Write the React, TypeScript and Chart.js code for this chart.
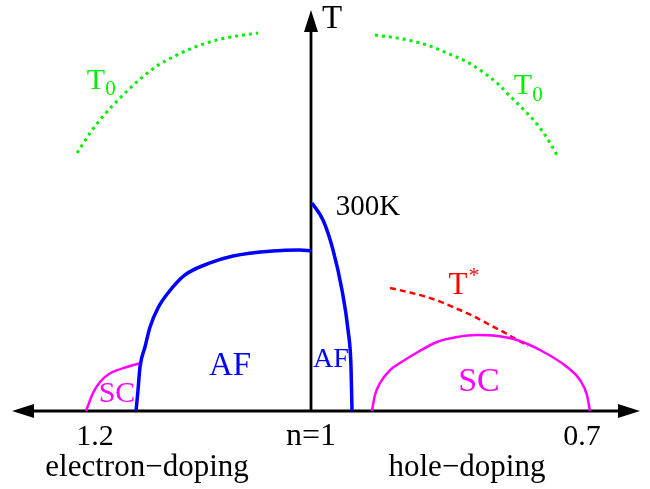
import React, { useEffect, useRef } from "react";
import { Chart, registerables } from "chart.js";

Chart.register(...registerables);

// Schematic axes: x = doping-like coordinate (n=1 at 0), y = temperature T (K)
const X_MIN = -0.3443;
const X_MAX = 0.3753;
const T_MIN = -112.5;
const T_MAX = 592.8;

const AXIS_X_LEFT = -0.331;
const AXIS_X_RIGHT = 0.3642;
const AXIS_T_TOP = 578.4;

// Electron-doped AF dome
const afLeftX = [-0.1937, -0.1915, -0.1893, -0.1838, -0.1782, -0.1694, -0.1583, -0.1395, -0.1118, -0.0863, -0.0421, -0.0122, 0];
const afLeftT = [0, 30.3, 63.5, 92.3, 121.2, 148.6, 170.2, 196.2, 213.5, 223.6, 230.8, 232.2, 230.8];

// Electron-doped SC dome
const scLeftX = [-0.2491, -0.2413, -0.2336, -0.2236, -0.2037, -0.1882];
const scLeftT = [0, 26.0, 41.8, 53.4, 63.5, 69.2];

// Hole-doped AF line
const afRightX = [0.0011, 0.0133, 0.0244, 0.0343, 0.041, 0.0443, 0.0454];
const afRightT = [300, 275.5, 232.2, 174.5, 116.8, 63.5, 0];

// Hole-doped SC dome
const scRightX = [0.0675, 0.0708, 0.0764, 0.0875, 0.0985, 0.1184, 0.1395, 0.1616, 0.1838, 0.2059, 0.228, 0.2535, 0.2834, 0.2978, 0.3055, 0.3088];
const scRightT = [0, 23.1, 40.4, 59.1, 69.2, 85.1, 99.5, 106.7, 109.6, 108.2, 102.4, 88.0, 63.5, 44.7, 23.1, 0];

// Pseudogap T*
const tStarX = [0.0875, 0.1118, 0.1351, 0.1572, 0.1793, 0.1982, 0.217, 0.2402];
const tStarT = [177.4, 170.2, 161.5, 150.0, 137.0, 124.0, 111.1, 93.7];

// T0 curves
const t0LeftX = [-0.259, -0.2446, -0.2291, -0.2114, -0.1893, -0.1705, -0.1506, -0.1284, -0.1041, -0.0819, -0.0587];
const t0LeftT = [372.1, 401.0, 426.9, 451.4, 478.8, 497.6, 512.0, 525.0, 535.1, 540.9, 545.2];
const t0RightX = [0.0708, 0.1018, 0.1284, 0.1506, 0.1727, 0.1904, 0.2059, 0.2203, 0.2347, 0.2502, 0.2613, 0.2723];
const t0RightT = [542.3, 536.5, 527.9, 516.3, 503.4, 488.9, 473.1, 454.3, 435.6, 413.9, 393.7, 369.2];

// Tick labels on the doping axis
const tickTexts = ["1.2", "n=1", "0.7"];
const tickX = [-0.2391, 0, 0.3];
const tickT = -37.5;

type Label = { text: string; sub?: string; sup?: string; x: number; t: number; color: string; size: number };
const labels: Label[] = [
  { text: "T", x: 0.0232, t: 565.4, color: "#000000", size: 33 },
  { text: "electron\u2212doping", x: -0.1815, t: -82.2, color: "#000000", size: 31 },
  { text: "hole\u2212doping", x: 0.1727, t: -82.2, color: "#000000", size: 31 },
  { text: "300K", x: 0.0631, t: 294.2, color: "#000000", size: 29 },
  { text: "AF", x: -0.0897, t: 64.9, color: "#0000ff", size: 33 },
  { text: "SC", x: -0.2148, t: 24.5, color: "#ff00ff", size: 30 },
  { text: "AF", x: 0.0221, t: 73.6, color: "#0000ff", size: 28 },
  { text: "SC", x: 0.186, t: 41.8, color: "#ff00ff", size: 34 },
  { text: "T", sup: "*", x: 0.1627, t: 180.3, color: "#ff0000", size: 31 },
  { text: "T", sub: "0", x: -0.238, t: 476.0, color: "#00f000", size: 30 },
  { text: "T", sub: "0", x: 0.2347, t: 468.7, color: "#00f000", size: 30 },
];

const FONT = '"Liberation Serif", "Times New Roman", serif';

const pts = (xs: number[], ts: number[]) => xs.map((x, i) => ({ x, y: ts[i] }));

const overlayPlugin = {
  id: "overlay",
  beforeDatasetsDraw(chart: any) {
    const { ctx, scales } = chart;
    const xs = scales.x;
    const ys = scales.y;
    const x0 = xs.getPixelForValue(0);
    const y0 = ys.getPixelForValue(0);
    const xl = xs.getPixelForValue(AXIS_X_LEFT);
    const xr = xs.getPixelForValue(AXIS_X_RIGHT);
    const yt = ys.getPixelForValue(AXIS_T_TOP);
    const L = 22;
    const W = 7;
    ctx.save();
    ctx.strokeStyle = "#000";
    ctx.fillStyle = "#000";
    ctx.lineWidth = 2.8;
    ctx.beginPath();
    ctx.moveTo(xl + L - 2, y0);
    ctx.lineTo(xr - L + 2, y0);
    ctx.moveTo(x0, y0);
    ctx.lineTo(x0, yt + L - 2);
    ctx.stroke();
    ctx.beginPath();
    ctx.moveTo(xl, y0);
    ctx.lineTo(xl + L, y0 - W);
    ctx.lineTo(xl + L, y0 + W);
    ctx.closePath();
    ctx.moveTo(xr, y0);
    ctx.lineTo(xr - L, y0 - W);
    ctx.lineTo(xr - L, y0 + W);
    ctx.closePath();
    ctx.moveTo(x0, yt);
    ctx.lineTo(x0 - W, yt + L);
    ctx.lineTo(x0 + W, yt + L);
    ctx.closePath();
    ctx.fill();
    ctx.restore();
  },
  afterDatasetsDraw(chart: any) {
    const { ctx, scales } = chart;
    const xs = scales.x;
    const ys = scales.y;
    ctx.save();
    ctx.textBaseline = "middle";
    tickTexts.forEach((t, i) => {
      ctx.font = `${i === 1 ? 32 : 30}px ${FONT}`;
      ctx.fillStyle = "#000";
      ctx.textAlign = "center";
      ctx.fillText(t, xs.getPixelForValue(tickX[i]), ys.getPixelForValue(tickT));
    });
    labels.forEach((lb) => {
      const px = xs.getPixelForValue(lb.x);
      const py = ys.getPixelForValue(lb.t);
      ctx.fillStyle = lb.color;
      ctx.font = `${lb.size}px ${FONT}`;
      ctx.textAlign = "center";
      ctx.fillText(lb.text, px, py);
      const w = ctx.measureText(lb.text).width;
      if (lb.sub) {
        ctx.font = `${Math.round(lb.size * 0.7)}px ${FONT}`;
        ctx.textAlign = "left";
        ctx.fillText(lb.sub, px + w / 2, py + lb.size * 0.3);
      }
      if (lb.sup) {
        ctx.font = `${Math.round(lb.size * 0.7)}px ${FONT}`;
        ctx.textAlign = "left";
        ctx.fillText(lb.sup, px + w / 2 + 1, py - lb.size * 0.3);
      }
    });
    ctx.restore();
  },
};

export default function App() {
  const ref = useRef<HTMLCanvasElement | null>(null);
  useEffect(() => {
    document.body.style.margin = "0";
    if (!ref.current) return;
    const line = (data: any, color: string, width: number, dash: number[] = []) => ({
      data,
      borderColor: color,
      borderWidth: width,
      borderDash: dash,
      pointRadius: 0,
      cubicInterpolationMode: "monotone",
      fill: false,
      clip: false,
    });
    const chart = new Chart(ref.current, {
      type: "line",
      data: {
        datasets: [
          line(pts(afLeftX, afLeftT), "#0000ff", 3.5),
          line(pts(scLeftX, scLeftT), "#ff00ff", 2.5),
          line(pts(afRightX, afRightT), "#0000ff", 3.5),
          line(pts(scRightX, scRightT), "#ff00ff", 2.5),
          line(pts(tStarX, tStarT), "#ff0000", 2.5, [6, 4]),
          line(pts(t0LeftX, t0LeftT), "#00f000", 3, [3, 4]),
          line(pts(t0RightX, t0RightT), "#00f000", 3, [3, 4]),
        ] as any,
      },
      options: {
        animation: false,
        responsive: false,
        maintainAspectRatio: false,
        layout: { padding: 0 },
        plugins: { legend: { display: false }, tooltip: { enabled: false } },
        events: [],
        scales: {
          x: { type: "linear", min: X_MIN, max: X_MAX, display: false },
          y: { type: "linear", min: T_MIN, max: T_MAX, display: false },
        },
      },
      plugins: [overlayPlugin],
    });
    return () => chart.destroy();
  }, []);
  return (
    <div style={{ width: 650, height: 489, background: "#fff" }}>
      <canvas ref={ref} width={650} height={489} style={{ display: "block" }} />
    </div>
  );
}
